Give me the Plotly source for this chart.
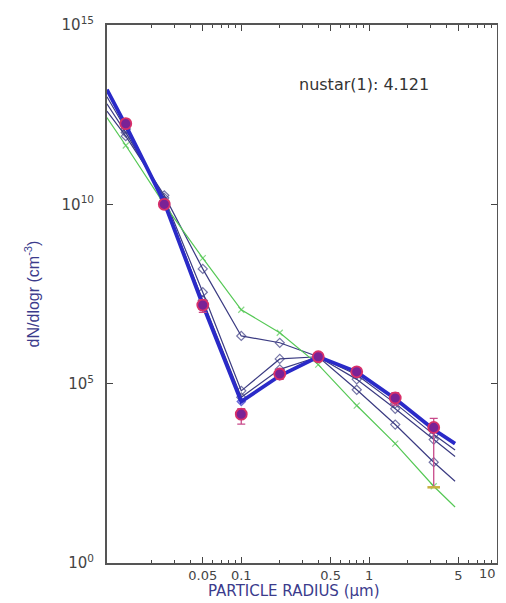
import plotly.graph_objects as go

# ---- data (y stored as log10 exponents) ----
radius_meas = [0.0125, 0.025, 0.05, 0.1, 0.2, 0.4, 0.8, 1.6, 3.2]
log_meas = [12.25, 10.0, 7.19, 4.15, 5.27, 5.75, 5.33, 4.60, 3.78]
log_err_up = [0.12, 0.12, 0.15, 0.15, 0.12, 0.10, 0.10, 0.15, 0.25]
log_err_dn = [0.12, 0.12, 0.20, 0.28, 0.15, 0.10, 0.10, 0.20, 1.67]

radius_model = [0.0089, 0.0125, 0.025, 0.05, 0.1, 0.2, 0.4, 0.8, 1.6, 3.2, 4.7]
log_fit = [13.20, 12.20, 10.05, 7.20, 4.50, 5.22, 5.75, 5.33, 4.58, 3.72, 3.33]
log_iter_b = [13.00, 12.10, 10.10, 7.32, 4.62, 5.40, 5.75, 5.25, 4.45, 3.58, 3.15]
log_iter_c = [12.80, 12.00, 10.18, 7.55, 4.80, 5.69, 5.75, 5.12, 4.30, 3.44, 2.97]
log_iter_d = [12.60, 11.90, 10.25, 8.20, 6.33, 6.14, 5.75, 4.83, 3.86, 2.81, 2.28]
log_initial = [12.42, 11.64, 10.00, 8.50, 7.06, 6.42, 5.53, 4.39, 3.33, 2.14, 1.56]

x_tickvals = [0.05, 0.1, 0.5, 1, 5, 10]
x_ticktext = ["0.05", "0.1", "0.5", "1", "5", "10"]
y_tickexp = [0, 5, 10, 15]
annot_text = "nustar(1): 4.121"
x_title = "PARTICLE RADIUS (µm)"
y_title = "dN/dlogr (cm<sup>-3</sup>)"

def lin(v):
    return [10 ** e for e in v]

msize_model = [0] + [7] * (len(radius_model) - 2) + [0]

fig = go.Figure()

navy = "#3b3b82"
for ys in (log_iter_d, log_iter_c, log_iter_b):
    fig.add_trace(go.Scatter(
        x=radius_model, y=lin(ys), mode="lines+markers",
        line=dict(color=navy, width=1.2),
        marker=dict(symbol="diamond-open", size=msize_model, color=navy, line=dict(width=1.2)),
        showlegend=False))

fig.add_trace(go.Scatter(
    x=radius_model, y=lin(log_initial), mode="lines+markers",
    line=dict(color="#55c855", width=1.2),
    marker=dict(symbol="x-thin-open", size=[0] + [6] * 9 + [0], color="#55c855", line=dict(width=1.2, color="#55c855")),
    showlegend=False))

fig.add_trace(go.Scatter(
    x=radius_model, y=lin(log_fit), mode="lines+markers",
    line=dict(color="#2a2ac8", width=3.8),
    marker=dict(symbol="diamond-open", size=[0] + [6] * 9 + [0], color="#2a2ac8", line=dict(width=1.5)),
    showlegend=False))

meas = lin(log_meas)
err_plus = [10 ** (m + u) - 10 ** m for m, u in zip(log_meas, log_err_up)]
err_minus = [10 ** m - 10 ** (m - d) for m, d in zip(log_meas, log_err_dn)]
fig.add_trace(go.Scatter(
    x=radius_meas, y=meas, mode="markers",
    marker=dict(symbol="circle", size=11, color="#7a2296", line=dict(color="#d8306a", width=1.8)),
    error_y=dict(type="data", symmetric=False, array=err_plus, arrayminus=err_minus,
                 color="#c84a8a", thickness=1.3, width=4),
    showlegend=False))

# yellowish lower cap on the last error bar
fig.add_trace(go.Scatter(
    x=[radius_meas[-1]], y=[10 ** (log_meas[-1] - log_err_dn[-1])], mode="markers",
    marker=dict(symbol="line-ew-open", size=9, color="#c8b040", line=dict(width=2.5, color="#c8b040")),
    showlegend=False))

minor_x = []
for dec in (0.01, 0.1, 1):
    for k in range(2, 10):
        v = round(dec * k, 4)
        if v not in x_tickvals:
            minor_x.append(v)

# tick labels drawn by the axis except the last one, which sits at the very edge
axis_ticktext = x_ticktext[:-1] + [""]

# the page body adds an 8px margin, so the figure is offset by 8px
fig.update_layout(
    width=498, height=595,
    margin=dict(l=99, r=9, t=17, b=40, autoexpand=False),
    paper_bgcolor="white", plot_bgcolor="white",
    font=dict(family="DejaVu Sans, Liberation Sans, sans-serif", color="#444"),
    xaxis=dict(
        type="log", range=[-2.05, 1], automargin=False,
        tickmode="array", tickvals=x_tickvals, ticktext=axis_ticktext,
        ticks="inside", ticklen=6, tickcolor="#444", tickwidth=1,
        minor=dict(tickmode="array", tickvals=minor_x, ticks="inside", ticklen=3, tickcolor="#444", tickwidth=1),
        showgrid=False, zeroline=False,
        showline=True, linecolor="#555", linewidth=1.5, mirror="ticks",
        tickfont=dict(size=13, color="#444"),
    ),
    yaxis=dict(
        type="log", range=[0, 15], automargin=False,
        tickmode="array", tickvals=[10 ** e for e in y_tickexp],
        ticktext=[f"10<sup>{e}</sup>" for e in y_tickexp],
        ticklabeloverflow="allow",
        ticks="inside", ticklen=6, tickcolor="#444",
        showgrid=False, zeroline=False,
        showline=True, linecolor="#555", linewidth=2, mirror="ticks",
        tickfont=dict(size=15, color="#444"),
        ticklabelstandoff=8,
        title=dict(text=y_title, font=dict(family="Liberation Sans, sans-serif", size=16, color="#3b3b8c"), standoff=18),
    ),
    annotations=[
        dict(text=annot_text, xref="paper", yref="paper", x=0.66, y=0.911,
             showarrow=False, font=dict(size=16, color="#333")),
        dict(text=x_ticktext[-1], xref="x", yref="paper", x=1, y=-0.02, yanchor="middle",
             xanchor="right", xshift=1, showarrow=False, font=dict(size=13, color="#444")),
        dict(text=x_title, xref="paper", yref="paper", x=0.48, y=-0.052, yanchor="middle",
             showarrow=False, font=dict(size=15, color="#3b3b8c")),
    ],
)

fig.write_html("out.html")
